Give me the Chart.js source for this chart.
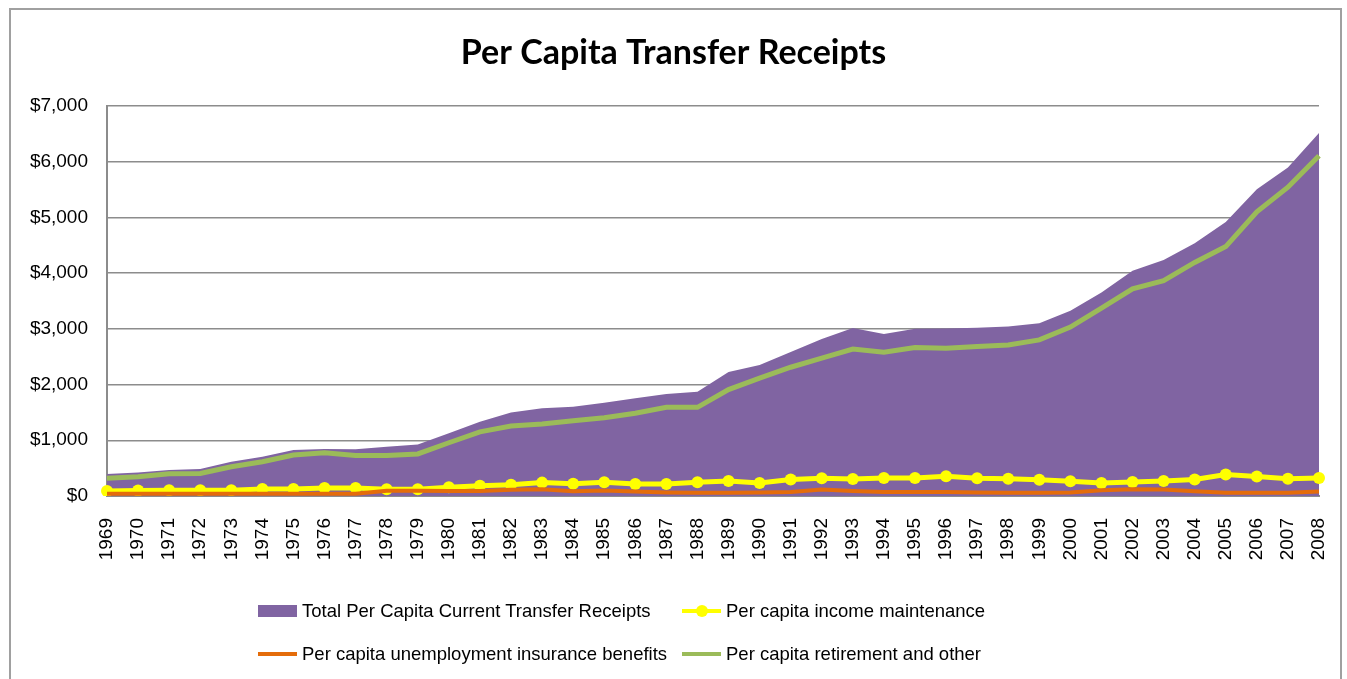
<!DOCTYPE html>
<html>
<head>
<meta charset="utf-8">
<title>Per Capita Transfer Receipts</title>
<script src="https://cdn.jsdelivr.net/npm/chart.js@4.4.1/dist/chart.umd.min.js"></script>
<style>
  body { margin: 0; background: #fff; font-family: "Liberation Sans", Arial, sans-serif; }
  #wrap { position: relative; width: 1347px; height: 679px; overflow: hidden; }
  #frame { position: absolute; left: 9px; top: 8px; width: 1329px; height: 700px; border: 2px solid #a0a0a0; }
  canvas { position: absolute; left: 0; top: 0; }
  .lg-item { position: absolute; font-size: 18.5px; color: #000; line-height: 20px; white-space: nowrap; }
  .lg-sym { position: absolute; }
</style>
</head>
<body>
<div id="wrap">
  <div id="frame"></div>
  <canvas id="transferChart" width="1347" height="679"></canvas>
  <div id="legend"></div>
</div>
<script>
const years = [
  "1969", "1970", "1971", "1972", "1973", "1974", "1975", "1976", "1977", "1978",
  "1979", "1980", "1981", "1982", "1983", "1984", "1985", "1986", "1987", "1988",
  "1989", "1990", "1991", "1992", "1993", "1994", "1995", "1996", "1997", "1998",
  "1999", "2000", "2001", "2002", "2003", "2004", "2005", "2006", "2007", "2008"
];

const totalReceipts = [
  395, 420, 465, 485, 615, 705, 825, 845, 840, 885,
  925, 1125, 1330, 1500, 1575, 1600, 1675, 1755, 1830, 1870,
  2225, 2350, 2585, 2815, 3015, 2905, 3000, 3005, 3020, 3040,
  3100, 3325, 3650, 4040, 4235, 4535, 4915, 5505, 5895, 6510
];

const incomeMaintenance = [
  90, 100, 105, 105, 105, 125, 125, 145, 145, 120,
  120, 155, 185, 200, 240, 220, 245, 215, 215, 245,
  270, 235, 295, 320, 305, 325, 325, 355, 320, 310,
  290, 265, 235, 250, 270, 295, 385, 350, 310, 325
];

const unemploymentBenefits = [
  40, 40, 40, 40, 40, 40, 40, 40, 40, 95,
  95, 90, 90, 110, 120, 85, 100, 80, 65, 60,
  60, 65, 70, 115, 90, 70, 70, 70, 65, 60,
  60, 65, 105, 120, 115, 85, 60, 60, 60, 80
];

const retirementOther = [
  320, 345, 400, 405, 525, 615, 735, 775, 725, 725,
  755, 955, 1150, 1255, 1290, 1350, 1405, 1485, 1590, 1590,
  1910, 2115, 2310, 2475, 2635, 2580, 2665, 2650, 2680, 2710,
  2800, 3030, 3370, 3715, 3865, 4190, 4475, 5100, 5540, 6105
];

const yTicks = [0, 1000, 2000, 3000, 4000, 5000, 6000, 7000];

const colors = {
  total: "#8064a2",
  income: "#ffff00",
  unemployment: "#e46c0a",
  retirement: "#9bbb59",
  grid: "#8c8c8c"
};

const ctx = document.getElementById("transferChart").getContext("2d");

new Chart(ctx, {
  type: "line",
  data: {
    labels: years,
    datasets: [
      {
        label: "Total Per Capita Current Transfer Receipts",
        data: totalReceipts,
        fill: "origin",
        backgroundColor: colors.total,
        borderColor: colors.total,
        borderWidth: 0,
        pointRadius: 0,
        order: 4
      },
      {
        label: "Per capita income maintenance",
        data: incomeMaintenance,
        borderColor: colors.income,
        backgroundColor: colors.income,
        borderWidth: 5,
        pointRadius: 6,
        pointBorderWidth: 0,
        pointBackgroundColor: colors.income,
        order: 3
      },
      {
        label: "Per capita unemployment insurance benefits",
        data: unemploymentBenefits,
        borderColor: colors.unemployment,
        borderWidth: 4,
        pointRadius: 0,
        order: 2
      },
      {
        label: "Per capita retirement and other",
        data: retirementOther,
        borderColor: colors.retirement,
        borderWidth: 5,
        pointRadius: 0,
        order: 1
      }
    ]
  },
  options: {
    responsive: false,
    animation: false,
    devicePixelRatio: 1,
    layout: { padding: 0 },
    elements: { line: { tension: 0 } },
    plugins: {
      legend: { display: false },
      tooltip: { enabled: false },
      title: {
        display: true,
        text: "Per Capita Transfer Receipts",
        color: "#000",
        font: { family: "Lato, 'Liberation Sans', Arial", size: 34, weight: "bold" },
        padding: { top: 33, bottom: 32 }
      }
    },
    scales: {
      x: {
        offset: false,
        grid: { display: false, drawTicks: false },
        border: { display: true, color: colors.grid, width: 2 },
        ticks: {
          color: "#000",
          font: { family: "'Liberation Sans', Arial", size: 19 },
          minRotation: 90,
          maxRotation: 90,
          autoSkip: false,
          padding: 22
        },
        afterFit: scale => {
          // keep the plot area where the original has it
          scale.height = 183;
          scale.paddingLeft = 0;
          scale.paddingRight = 28;
        }
      },
      y: {
        min: 0,
        max: 7000,
        afterBuildTicks: scale => { scale.ticks = yTicks.map(v => ({ value: v })); },
        grid: { color: colors.grid, lineWidth: 1.5, drawTicks: false },
        border: { display: true, color: colors.grid, width: 2 },
        ticks: {
          color: "#000",
          font: { family: "'Liberation Sans', Arial", size: 19 },
          padding: 19,
          callback: value => "$" + value.toLocaleString("en-US")
        },
        afterFit: scale => { scale.width = 107; }
      }
    }
  }
});

// Legend laid out as two rows of two, like the original
const legendItems = [
  { text: "Total Per Capita Current Transfer Receipts", kind: "box", color: colors.total, x: 258, y: 611 },
  { text: "Per capita income maintenance", kind: "dot", color: colors.income, x: 682, y: 611 },
  { text: "Per capita unemployment insurance benefits", kind: "line", color: colors.unemployment, x: 258, y: 654 },
  { text: "Per capita retirement and other", kind: "line", color: colors.retirement, x: 682, y: 654 }
];

const legend = document.getElementById("legend");
legendItems.forEach(item => {
  const sym = document.createElement("div");
  sym.className = "lg-sym";
  if (item.kind === "box") {
    Object.assign(sym.style, { left: item.x + "px", top: (item.y - 6) + "px", width: "39px", height: "12px", background: item.color });
  } else {
    Object.assign(sym.style, { left: item.x + "px", top: (item.y - 2) + "px", width: "39px", height: "4px", background: item.color });
    if (item.kind === "dot") {
      const dot = document.createElement("div");
      Object.assign(dot.style, { position: "absolute", left: "14px", top: "-4px", width: "12px", height: "12px", borderRadius: "50%", background: item.color });
      sym.appendChild(dot);
    }
  }
  legend.appendChild(sym);

  const label = document.createElement("div");
  label.className = "lg-item";
  label.textContent = item.text;
  Object.assign(label.style, { left: (item.x + 44) + "px", top: (item.y - 10) + "px" });
  legend.appendChild(label);
});
</script>
</body>
</html>
